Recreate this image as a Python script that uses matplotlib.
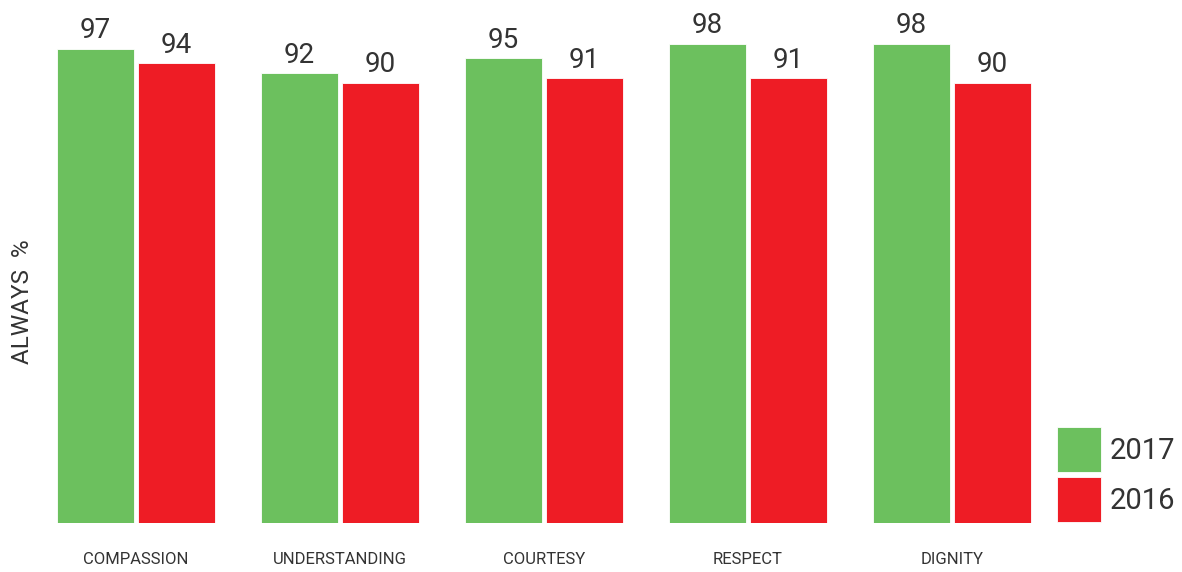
import matplotlib.pyplot as plt
import numpy as np
from matplotlib.container import BarContainer
from matplotlib.legend_handler import HandlerPatch, update_from_first_child

categories = ["COMPASSION", "UNDERSTANDING", "COURTESY", "RESPECT", "DIGNITY"]
values_2017 = [97, 92, 95, 98, 98]
values_2016 = [94, 90, 91, 91, 90]
series_labels = ["2017", "2016"]

green = "#6cc05e"
red = "#ee1c25"
text_col = "#333333"

plt.rcParams['font.family'] = ['Roboto', 'DejaVu Sans']

fig = plt.figure(figsize=(11.82, 5.72), dpi=100)
# axes covers full width; baseline at 49 px from bottom
ax = fig.add_axes([0, 49 / 572, 1, 489 / 572])

sp = 204
x = np.arange(len(categories))
w = 77 / sp
off = 40.5 / sp

b1 = ax.bar(x - off, values_2017, w, color=green, edgecolor="white", linewidth=0.6, label=series_labels[0])
b2 = ax.bar(x + off, values_2016, w, color=red, edgecolor="white", linewidth=0.6, label=series_labels[1])

for bars in (b1, b2):
    for r in bars:
        ax.annotate(str(int(r.get_height())), (r.get_x() + r.get_width() / 2, r.get_height()),
                    xytext=(0, 7.5), textcoords="offset points", ha="center", va="baseline",
                    fontsize=20, color=text_col)

ax.set_xlim(-136 / sp, (1182 - 136) / sp)
ax.set_ylim(0, 100)
ax.set_xticks(x)
ax.set_xticklabels(categories, fontsize=12, color=text_col)
ax.tick_params(axis="x", length=0, pad=21)
ax.set_yticks([])
for s in ax.spines.values():
    s.set_visible(False)

ax.set_ylabel("ALWAYS  %", fontsize=17.5, color=text_col)
ax.yaxis.set_label_coords(34 / 1182, (523 - 302) / 489)

fs = 21
fs_px = fs * 100 / 72
# patch height in the legend = fs*(0.65*hh + 0.245)
hh = (45 / fs_px - 0.245) / 0.65
leg = ax.legend(loc="lower left", bbox_to_anchor=(1057 / 1182, 50 / 572), bbox_transform=fig.transFigure,
                frameon=False, fontsize=fs, borderpad=0, borderaxespad=0,
                handlelength=44 / fs_px, handleheight=hh,
                handletextpad=9 / fs_px, labelspacing=5 / fs_px,
                handler_map={BarContainer: HandlerPatch(ypad=0, update_func=update_from_first_child)})
for t in leg.get_texts():
    t.set_color(text_col)

fig.savefig("out.png", dpi=100)
